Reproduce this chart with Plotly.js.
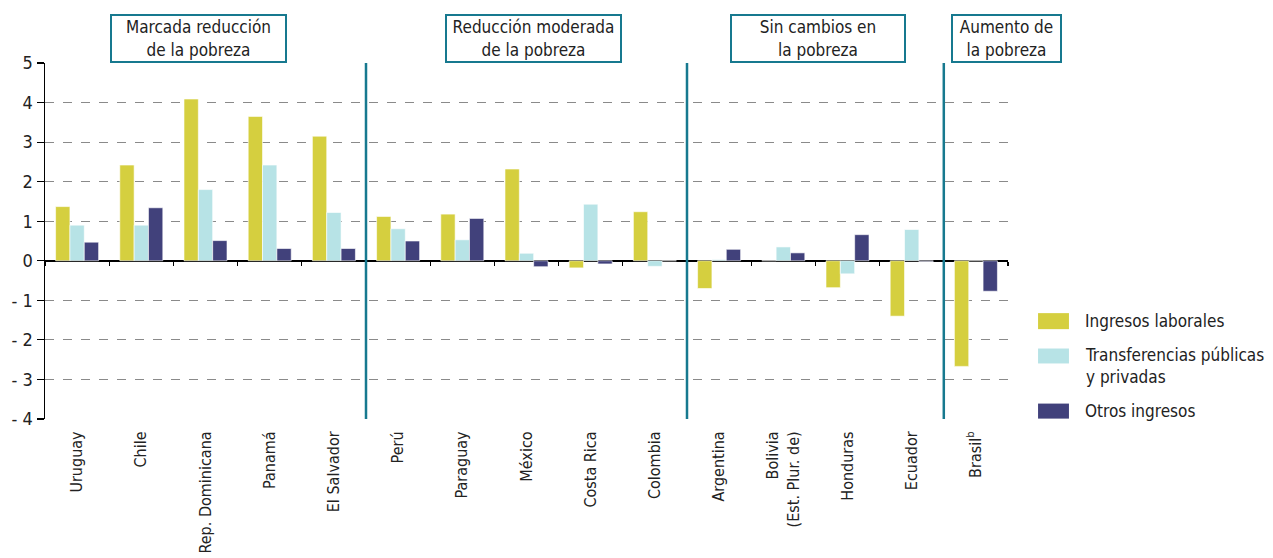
<!DOCTYPE html>
<html>
<head>
<meta charset="utf-8">
<script src="https://cdn.plot.ly/plotly-3.0.1.min.js"></script>
<style>html,body{margin:0;padding:0;background:#fff;}#chart{width:1273px;height:558px;}</style>
</head>
<body>
<div id="chart"></div>
<script>
// ---- data ----
const categories = ["Uruguay","Chile","Rep. Dominicana","Panamá","El Salvador","Perú","Paraguay","México","Costa Rica","Colombia","Argentina","Bolivia<br>(Est. Plur. de)","Honduras","Ecuador","Brasil<sup>b</sup>"];
const ingresosLaborales = [1.37, 2.42, 4.09, 3.65, 3.15, 1.12, 1.18, 2.32, -0.18, 1.24, -0.70, 0, -0.68, -1.40, -2.67];
const transferencias    = [0.90, 0.90, 1.80, 2.42, 1.22, 0.81, 0.53, 0.19, 1.43, -0.14, 0.03, 0.35, -0.33, 0.79, 0];
const otrosIngresos     = [0.47, 1.34, 0.51, 0.31, 0.31, 0.50, 1.07, -0.15, -0.08, 0, 0.29, 0.20, 0.66, -0.02, -0.77];
const seriesNames = ["Ingresos laborales", "Transferencias públicas<br>y privadas", "Otros ingresos"];
const yTickVals = [-4,-3,-2,-1,0,1,2,3,4,5];
const yTickText = ["- 4","- 3","- 2","- 1","0","1","2","3","4","5"];
const groupLabels = ["Marcada reducción<br>de la pobreza","Reducción moderada<br>de la pobreza","Sin cambios en<br>la pobreza","Aumento de<br>la pobreza"];
const groupSeparators = [4.5, 9.5, 13.5];

// ---- style ----
const FONT = "'Liberation Sans Narrow', 'DejaVu Sans Condensed', 'Arial Narrow', sans-serif";
const colors = ["#D5CF3F", "#B7E3E6", "#41417B"];
const TEAL = "#17798F";

const seriesValues = [ingresosLaborales, transferencias, otrosIngresos];
const traces = seriesValues.map((vals, i) => ({
  type: "bar",
  x: categories,
  y: vals,
  name: seriesNames[i],
  marker: {color: colors[i], line: {color: "#ffffff", width: 0.6}},
  showlegend: false,
  hoverinfo: "x+y"
}));
// helper trace for the category ticks drawn on the zero line
traces.push({type: "scatter", x: categories, y: categories.map(() => null), xaxis: "x2", showlegend: false, hoverinfo: "skip", mode: "markers"});

const shapes = groupSeparators.map(s => ({
  type: "line", xref: "x", yref: "y", x0: s, x1: s, y0: -4.05, y1: 5.05,
  line: {color: TEAL, width: 2.5}, layer: "above"
}));

const boxX = [0.1594, 0.5073, 0.8027, 0.9984];
const boxW = [171, 171, 170, 105];
const annotations = groupLabels.map((t, i) => ({
  text: t, xref: "paper", yref: "paper", x: boxX[i], y: 1, xanchor: "center", yanchor: "bottom",
  showarrow: false, align: "center", width: boxW[i], height: 43,
  bordercolor: TEAL, borderwidth: 2, borderpad: 1, bgcolor: "#ffffff",
  font: {family: FONT, size: 17, color: "#222222"}
}));

// manual legend
const legSwatch = [[0.2974, 0.2524], [0.198, 0.156], [0.0433, 0.0011]];
const legText = [0.274, 0.150, 0.0217];
seriesNames.forEach((n, i) => {
  shapes.push({type: "rect", xref: "paper", yref: "paper", x0: 1.0312, x1: 1.0633,
    y0: legSwatch[i][1], y1: legSwatch[i][0], fillcolor: colors[i], line: {width: 0}});
  annotations.push({text: n, xref: "paper", yref: "paper", x: 1.0779, y: legText[i],
    xanchor: "left", yanchor: "middle", align: "left", showarrow: false,
    font: {family: FONT, size: 17, color: "#222222"}});
});

const layout = {
  width: 1273, height: 558,
  margin: {l: 45, r: 265, t: 63, b: 139},
  paper_bgcolor: "#ffffff", plot_bgcolor: "#ffffff",
  font: {family: FONT, size: 16, color: "#222222"},
  barmode: "group", bargap: 0.33, bargroupgap: 0,
  xaxis: {
    type: "category", categoryorder: "array", categoryarray: categories,
    range: [-0.5, 14.5], showgrid: false, zeroline: false, showline: false,
    ticks: "outside", ticklen: 5, tickcolor: "rgba(0,0,0,0)", tickangle: -90,
    tickfont: {family: FONT, size: 16, color: "#222222"}, fixedrange: true
  },
  xaxis2: {
    type: "category", categoryorder: "array", categoryarray: categories,
    overlaying: "x", matches: "x", anchor: "free", position: 4/9, side: "bottom",
    range: [-0.5, 14.5], showgrid: false, zeroline: false, showline: false,
    ticks: "outside", tickson: "boundaries", ticklen: 4, tickcolor: "#000000", tickwidth: 1.2,
    showticklabels: false
  },
  yaxis: {
    range: [-4, 5], tickvals: yTickVals, ticktext: yTickText,
    showgrid: true, gridcolor: "#8a8a8a", griddash: "dash", gridwidth: 1,
    zeroline: true, zerolinecolor: "#000000", zerolinewidth: 1.5,
    showline: true, linecolor: "#000000", linewidth: 1.5,
    ticks: "outside", ticklen: 7, tickcolor: "#000000", tickwidth: 1.2,
    tickfont: {family: FONT, size: 18, color: "#222222"}, fixedrange: true
  },
  shapes: shapes,
  annotations: annotations,
  showlegend: false
};

Plotly.newPlot("chart", traces, layout, {displayModeBar: false, staticPlot: true});
</script>
</body>
</html>
